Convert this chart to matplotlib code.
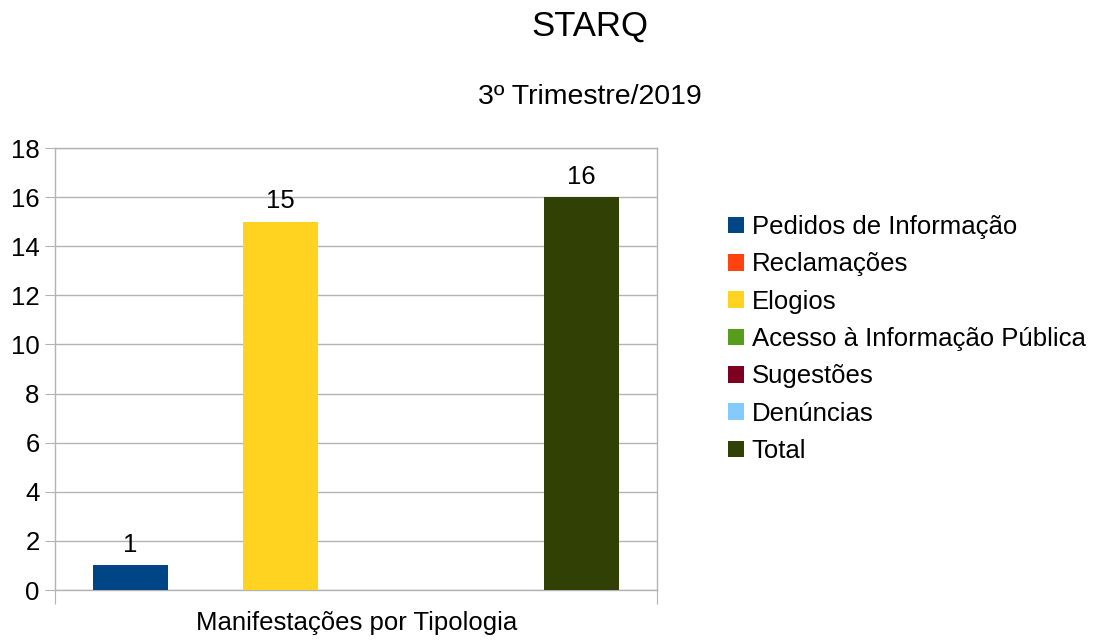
import matplotlib
matplotlib.use("Agg")
import matplotlib.pyplot as plt
from matplotlib.patches import Patch

plt.rcParams['font.family'] = ['Liberation Sans', 'DejaVu Sans']

# data
categories = ["Pedidos de Informação", "Reclamações", "Elogios",
              "Acesso à Informação Pública", "Sugestões", "Denúncias", "Total"]
values = [1, 0, 15, 0, 0, 0, 16]
colors = ["#004586", "#ff420e", "#ffd320", "#579d1c", "#7e0021", "#83caff", "#314004"]
y_ticks = [0, 2, 4, 6, 8, 10, 12, 14, 16, 18]

fig = plt.figure(figsize=(11.01, 6.41), dpi=100)
ax = fig.add_axes([55 / 1101, 1 - 590 / 641, 602 / 1101, 442 / 641])

grid_color = "#b3b3b3"
fs = 18.5
x = list(range(len(categories)))
bars = ax.bar(x, values, width=1.0, color=colors, zorder=3)

for b, v in zip(bars, values):
    if v:
        ax.annotate(str(v), (b.get_x() + b.get_width() / 2, v),
                    xytext=(0, 6), textcoords="offset points",
                    ha="center", va="bottom", fontsize=fs)

ax.set_xlim(-1, 7)
ax.set_ylim(0, 18)
ax.set_yticks(y_ticks)
ax.set_xticks([-1, 7])
ax.set_xticklabels([])
ax.tick_params(axis="y", labelsize=fs, length=7, color=grid_color, pad=4)
ax.tick_params(axis="x", length=10, color=grid_color)
ax.yaxis.grid(True, color=grid_color, linewidth=1, zorder=0)
for s in ax.spines.values():
    s.set_color(grid_color)
    s.set_linewidth(1)

fig.text(357 / 1101, 1 - 623 / 641, "Manifestações por Tipologia",
         ha="center", va="center", fontsize=fs)

fig.text(590 / 1101, 1 - 26 / 641, "STARQ", ha="center", va="center", fontsize=25)
fig.text(590 / 1101, 1 - 97 / 641, "3º Trimestre/2019", ha="center", va="center", fontsize=20.5)

handles = [Patch(facecolor=c) for c in colors]
fig.legend(handles, categories, loc="upper left",
           bbox_to_anchor=(728 / 1101, 1 - 215 / 641),
           frameon=False, fontsize=fs, handlelength=0.62, handleheight=0.62,
           handletextpad=0.3, labelspacing=0.52, borderaxespad=0, borderpad=0)

fig.savefig("out.png", dpi=100)
